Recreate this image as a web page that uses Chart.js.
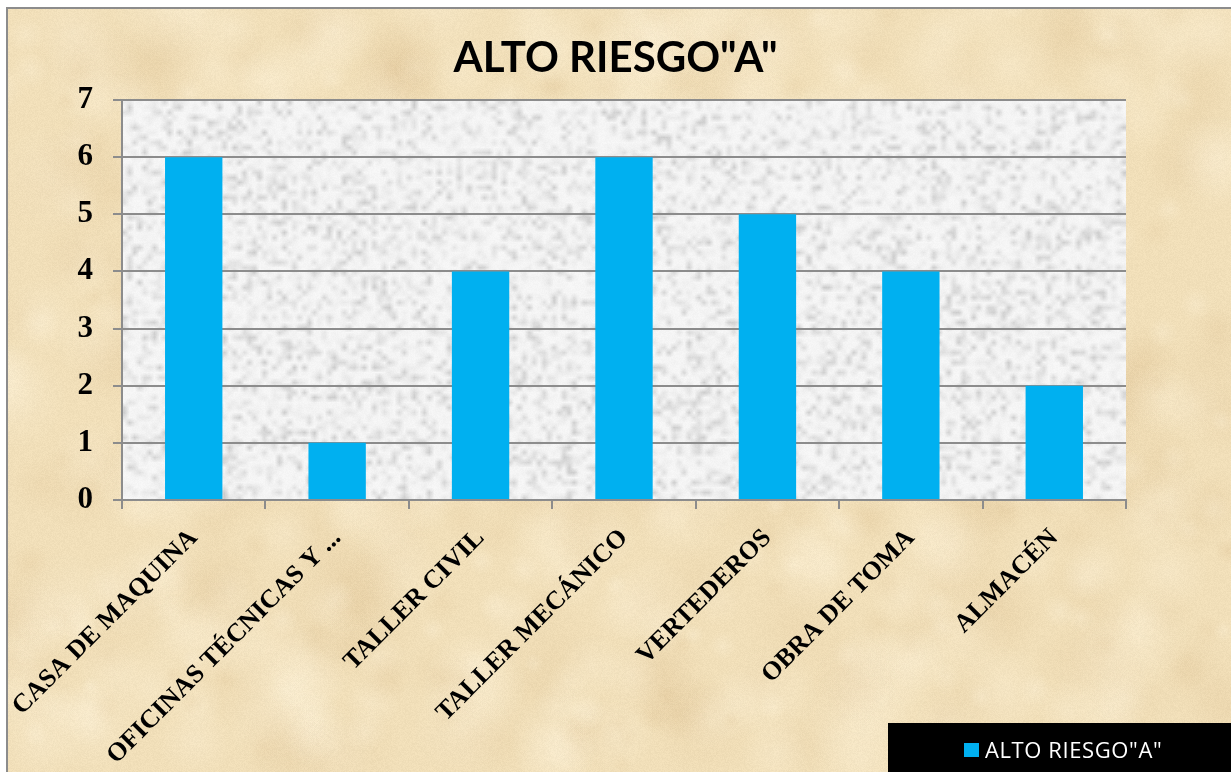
<!DOCTYPE html>
<html>
<head>
<meta charset="utf-8">
<title>Alto riesgo A</title>
<script src="https://cdn.jsdelivr.net/npm/chart.js@4.4.0/dist/chart.umd.min.js"></script>
<style>
  html, body { margin: 0; padding: 0; background: #fff; }
  #riesgo { display: block; }
</style>
</head>
<body>
<canvas id="riesgo" width="1231" height="772"></canvas>
<script>
// ---- datos ----
const areas = [
  "CASA DE MAQUINA",
  "OFICINAS TÉCNICAS Y ...",
  "TALLER CIVIL",
  "TALLER MECÁNICO",
  "VERTEDEROS",
  "OBRA DE TOMA",
  "ALMACÉN",
];
const altoRiesgoA = [6, 1, 4, 6, 5, 4, 2];
const serieNombre = 'ALTO RIESGO"A"';
const tituloGrafico = 'ALTO RIESGO"A"';
const ejeYMin = 0;
const ejeYMax = 7;
const ejeYPaso = 1;

const AZUL = "#00b0f0";
const GRIS_LINEA = "#8c8c8c";

// generador pseudoaleatorio con semilla (solo para las texturas de fondo)
function mulberry32(a) {
  return function () {
    a |= 0; a = (a + 0x6d2b79f5) | 0;
    let t = Math.imul(a ^ (a >>> 15), 1 | a);
    t = (t + Math.imul(t ^ (t >>> 7), 61 | t)) ^ t;
    return ((t ^ (t >>> 14)) >>> 0) / 4294967296;
  };
}

// fondo tipo pergamino
function texturaPergamino(w, h) {
  const c = document.createElement("canvas");
  c.width = w; c.height = h;
  const g = c.getContext("2d");
  const rnd = mulberry32(17);
  g.fillStyle = "#f1dfb9";
  g.fillRect(0, 0, w, h);
  for (let i = 0; i < 700; i++) {
    const x = rnd() * w, y = rnd() * h, r = 10 + rnd() * 45;
    const oscuro = rnd() < 0.5;
    const col = oscuro ? "214,182,132" : "253,243,220";
    const grad = g.createRadialGradient(x, y, 0, x, y, r);
    grad.addColorStop(0, `rgba(${col},${oscuro ? 0.13 : 0.3})`);
    grad.addColorStop(1, `rgba(${col},0)`);
    g.fillStyle = grad;
    g.fillRect(x - r, y - r, 2 * r, 2 * r);
  }
  const img = g.getImageData(0, 0, w, h), d = img.data;
  for (let i = 0; i < d.length; i += 4) {
    const n = (rnd() - 0.5) * 8;
    d[i] += n; d[i + 1] += n; d[i + 2] += n;
  }
  g.putImageData(img, 0, 0);
  return c;
}

// fondo gris moteado del area de trazado
function texturaMoteada(w, h) {
  const c = document.createElement("canvas");
  c.width = w; c.height = h;
  const g = c.getContext("2d");
  const rnd = mulberry32(5);
  const s = document.createElement("canvas");
  s.width = Math.ceil(w / 5); s.height = Math.ceil(h / 5);
  const sg = s.getContext("2d");
  const im = sg.createImageData(s.width, s.height);
  for (let i = 0; i < im.data.length; i += 4) {
    const v = 246 - Math.pow(rnd(), 4) * 42;
    im.data[i] = im.data[i + 1] = im.data[i + 2] = v;
    im.data[i + 3] = 255;
  }
  sg.putImageData(im, 0, 0);
  g.imageSmoothingEnabled = true;
  g.drawImage(s, 0, 0, w, h);
  const img = g.getImageData(0, 0, w, h), d = img.data;
  for (let i = 0; i < d.length; i += 4) {
    const n = (rnd() - 0.5) * 5;
    d[i] += n; d[i + 1] += n; d[i + 2] += n;
  }
  g.putImageData(img, 0, 0);
  return c;
}

let pergamino = null;
let moteado = null;

const fondos = {
  id: "fondos",
  beforeDraw(chart) {
    const { ctx, width, height, chartArea: a } = chart;
    if (!pergamino) pergamino = texturaPergamino(width, height);
    const aw = Math.round(a.right - a.left), ah = Math.round(a.bottom - a.top);
    if (!moteado) moteado = texturaMoteada(aw, ah);
    ctx.save();
    ctx.fillStyle = "#fff";
    ctx.fillRect(0, 0, width, height);
    ctx.drawImage(pergamino, 8, 9, width - 8, height - 9, 8, 9, width - 8, height - 9);
    // borde exterior
    ctx.strokeStyle = GRIS_LINEA;
    ctx.lineWidth = 2;
    ctx.beginPath();
    ctx.moveTo(7, height);
    ctx.lineTo(7, 8);
    ctx.lineTo(width, 8);
    ctx.stroke();
    ctx.drawImage(moteado, a.left, a.top, aw, ah);
    ctx.restore();
  },
};

// leyenda en recuadro negro abajo a la derecha
const leyendaNegra = {
  id: "leyendaNegra",
  afterDraw(chart) {
    const { ctx, width, height } = chart;
    const ds = chart.data.datasets[0];
    ctx.save();
    ctx.fillStyle = "#000";
    ctx.fillRect(888, 723, width - 888, height - 723);
    ctx.fillStyle = ds.backgroundColor;
    ctx.fillRect(964, 743, 15, 14);
    ctx.fillStyle = "#fff";
    ctx.font = "22px 'Open Sans'";
    ctx.letterSpacing = "0.6px";
    ctx.textBaseline = "alphabetic";
    ctx.fillText(ds.label, 985, 758);
    ctx.restore();
  },
};

new Chart(document.getElementById("riesgo"), {
  type: "bar",
  data: {
    labels: areas,
    datasets: [
      {
        label: serieNombre,
        data: altoRiesgoA,
        backgroundColor: AZUL,
        borderWidth: 0,
        barPercentage: 0.4,
        categoryPercentage: 1,
      },
    ],
  },
  options: {
    responsive: false,
    animation: false,
    layout: { padding: 0 },
    plugins: {
      legend: { display: false },
      tooltip: { enabled: false },
      title: {
        display: true,
        text: tituloGrafico,
        color: "#000",
        font: { family: "Lato", weight: "bold", size: 42, lineHeight: 1.2 },
        padding: { top: 33, bottom: 16.6 },
      },
    },
    scales: {
      x: {
        afterFit(scale) {
          // las etiquetas inclinadas caben en el margen, no empujan el area
          scale.height = 272;
          scale.paddingLeft = 0;
          scale.paddingRight = 0;
        },
        grid: {
          display: true,
          drawOnChartArea: false,
          color: GRIS_LINEA,
          lineWidth: 2,
          tickLength: 9,
        },
        border: { display: true, color: GRIS_LINEA, width: 2 },
        ticks: {
          color: "#000",
          autoSkip: false,
          minRotation: 45,
          maxRotation: 45,
          padding: 14,
          font: { family: "Liberation Serif", weight: "bold", size: 26 },
        },
      },
      y: {
        min: ejeYMin,
        max: ejeYMax,
        afterFit(scale) { scale.width = 122; },
        grid: { color: GRIS_LINEA, lineWidth: 2, tickLength: 9 },
        border: { display: true, color: GRIS_LINEA, width: 2 },
        ticks: {
          stepSize: ejeYPaso,
          color: "#000",
          padding: 20,
          font: { family: "Liberation Serif", weight: "bold", size: 31 },
        },
      },
      // margen derecho del area de trazado, sin marcas
      margenDerecho: {
        type: "linear",
        position: "right",
        afterFit(scale) { scale.width = 105; },
        grid: { display: false },
        border: { display: false },
        ticks: { display: false },
      },
    },
  },
  plugins: [fondos, leyendaNegra],
});
</script>
</body>
</html>
